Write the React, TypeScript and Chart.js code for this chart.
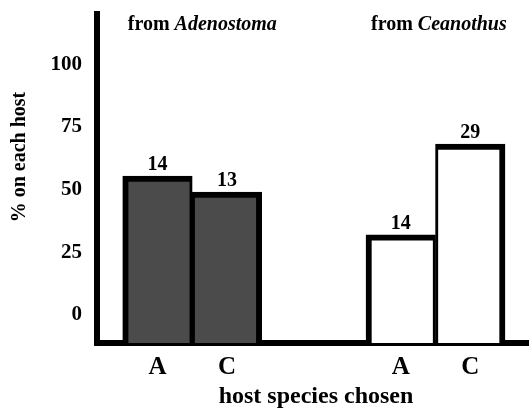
import React, { useEffect, useRef } from "react";
import { Chart, registerables } from "chart.js";

Chart.register(...registerables);

// ---- data ----
const hostLabels = ["A", "C", "A", "C"];
const sourceGroups = ["Adenostoma", "Ceanothus"];
const groupIndex = [0, 0, 1, 1];
const slotInGroup = [0, 1, 0, 1];
const percentOnHost = [55.4, 49.0, 31.9, 68.1];
const sampleSizes = ["14", "13", "14", "29"];
const yTickValues = [0, 25, 50, 75, 100];

const FONT = "'Liberation Serif', 'Times New Roman', serif";
const GROUP_STRIDE = 3.5;
const Y_MIN = -11.2;
const Y_MAX = 120;
const groupFill = ["#4b4b4b", "#ffffff"];

const xPositions = hostLabels.map((_, i) => groupIndex[i] * GROUP_STRIDE + slotInGroup[i]);

const textPlugin = {
  id: "textPlugin",
  afterDraw(chart: any) {
    const ctx = chart.ctx;
    const meta = chart.getDatasetMeta(0);
    ctx.save();
    ctx.fillStyle = "#000";
    // value labels (sample sizes)
    ctx.font = `bold 20px ${FONT}`;
    ctx.textAlign = "center";
    ctx.textBaseline = "alphabetic";
    meta.data.forEach((bar: any, i: number) => {
      ctx.fillText(sampleSizes[i], bar.x, bar.y - 6);
    });
    // group titles
    sourceGroups.forEach((g, gi) => {
      const first = meta.data[groupIndex.indexOf(gi)];
      const left = first.x - first.width / 2 + 5;
      ctx.textAlign = "left";
      ctx.font = `bold 20px ${FONT}`;
      const pre = "from ";
      ctx.fillText(pre, left, 30);
      const w = ctx.measureText(pre).width;
      ctx.font = `italic bold 20px ${FONT}`;
      ctx.fillText(g, left + w, 30);
    });
    // x axis title
    ctx.font = `bold 24px ${FONT}`;
    ctx.textAlign = "center";
    ctx.fillText("host species chosen", 316, 403);
    // y axis title
    ctx.translate(25, 157);
    ctx.rotate(-Math.PI / 2);
    ctx.font = `bold 20px ${FONT}`;
    ctx.textAlign = "center";
    ctx.fillText("% on each host", 0, 0);
    ctx.restore();
  },
};

export default function App() {
  const ref = useRef<HTMLCanvasElement>(null);
  useEffect(() => {
    document.body.style.margin = "0";
    const canvas = ref.current;
    if (!canvas) return;
    const chart = new Chart(canvas, {
      type: "bar",
      data: {
        datasets: [
          {
            data: percentOnHost.map((v, i) => ({ x: xPositions[i], y: v })),
            backgroundColor: (c: any) => groupFill[groupIndex[c.dataIndex]],
            borderColor: "#000",
            borderWidth: (c: any) =>
              slotInGroup[c.dataIndex] === 0
                ? { top: 6, left: 6, right: 3, bottom: 0 }
                : { top: 6, left: 3, right: 6, bottom: 0 },
            borderSkipped: "bottom",
            base: Y_MIN,
            categoryPercentage: 1,
            barPercentage: 1,
          } as any,
        ],
      },
      options: {
        animation: false,
        responsive: true,
        maintainAspectRatio: false,
        layout: { padding: { top: 14, right: 0, left: 0, bottom: 0 } },
        plugins: { legend: { display: false }, tooltip: { enabled: false }, title: { display: false } },
        scales: {
          x: {
            type: "linear",
            offset: false,
            min: -0.87,
            max: 5.345,
            grid: { display: false, drawTicks: false, offset: false },
            border: { display: true, width: 6, color: "#000" },
            afterBuildTicks: (scale: any) => {
              scale.ticks = xPositions.map((v) => ({ value: v }));
            },
            afterFit: (scale: any) => {
              scale.height = 65;
              scale.paddingLeft = 0;
              scale.paddingRight = 0;
            },
            ticks: {
              autoSkip: false,
              maxRotation: 0,
              padding: 10,
              color: "#000",
              font: { family: FONT, size: 25, weight: "bold" },
              callback: (_v: any, i: number) => hostLabels[i],
            },
          },
          y: {
            type: "linear",
            min: Y_MIN,
            max: Y_MAX,
            grid: { display: false, drawTicks: false },
            border: { display: true, width: 6, color: "#000" },
            afterBuildTicks: (scale: any) => {
              scale.ticks = yTickValues.map((v) => ({ value: v }));
            },
            afterFit: (scale: any) => {
              scale.width = 97;
              scale.paddingTop = 0;
              scale.paddingBottom = 0;
            },
            ticks: {
              padding: 15,
              color: "#000",
              font: { family: FONT, size: 21, weight: "bold" },
            },
          },
        },
      } as any,
      plugins: [textPlugin],
    });
    return () => chart.destroy();
  }, []);
  return (
    <div style={{ position: "relative", width: "529px", height: "408px" }}>
      <canvas ref={ref} />
    </div>
  );
}
